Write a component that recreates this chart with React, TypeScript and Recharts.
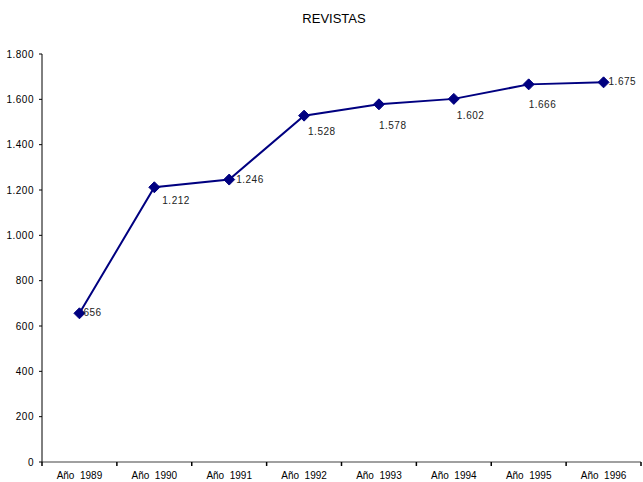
import { LineChart, Line, XAxis, YAxis, LabelList } from 'recharts';

const years = ['1989', '1990', '1991', '1992', '1993', '1994', '1995', '1996'];
const revistas = [656, 1212, 1246, 1528, 1578, 1602, 1666, 1675];
const yTicks = [0, 200, 400, 600, 800, 1000, 1200, 1400, 1600, 1800];

// label nudges (dx, dy) relative to the point, as in the original
const labelNudge: [number, number][] = [
  [4, 3], [8, 17], [7, 3], [4, 19], [0, 25], [3, 20], [0, 24], [5, 3],
];

const W = 643;
const H = 482;
const LEFT = 42;
const RIGHT = 2;
const slot = (W - LEFT - RIGHT) / years.length;

const data = years.map((y, i) => ({ x: i + 0.5, name: `Año ${y}`, value: revistas[i] }));

const fmt = (v: number) => v.toLocaleString('de-DE');

const Diamond = (props: any) => {
  const { cx, cy, index } = props;
  const r = 5.5;
  return (
    <path
      key={`d-${index}`}
      d={`M${cx},${cy - r} L${cx + r},${cy} L${cx},${cy + r} L${cx - r},${cy} Z`}
      fill="#000080"
      stroke="#000080"
    />
  );
};

const XTick = (props: any) => {
  const { x, y, payload } = props;
  const i = payload.value;
  if (i >= years.length) return <g />;
  return (
    <text x={x + slot / 2} y={y + 11} textAnchor="middle" fontSize={10} fill="#000">
      {`Año\u00A0\u00A0${years[i]}`}
    </text>
  );
};

const YTick = (props: any) => {
  const { x, y, payload } = props;
  return (
    <text x={x - 3} y={y + 3.5} textAnchor="end" fontSize={10} fill="#000" letterSpacing={0.5}>
      {fmt(payload.value)}
    </text>
  );
};

const PointLabel = (props: any) => {
  const { x, y, index, value } = props;
  const [dx, dy] = labelNudge[index];
  return (
    <text x={x + dx} y={y + dy} fontSize={10} fill="#222" letterSpacing={0.5}>
      {fmt(value)}
    </text>
  );
};

export default function App() {
  return (
    <div style={{ position: 'absolute', left: 0, top: 0, width: W, height: H, background: '#fff', fontFamily: 'Liberation Sans, Arial, sans-serif' }}>
      <div style={{ position: 'absolute', top: 11, left: 0, width: 668, textAlign: 'center', fontSize: 13 }}>REVISTAS</div>
      <LineChart width={W} height={H} data={data} margin={{ top: 54, right: RIGHT, bottom: 0, left: 0 }}>
        <XAxis
          dataKey="x"
          type="number"
          domain={[0, 8]}
          ticks={[0, 1, 2, 3, 4, 5, 6, 7, 8]}
          height={20}
          tick={<XTick />}
          tickSize={4}
          stroke="#808080"
          strokeWidth={1.5}
          tickLine={{ stroke: '#000' }}
          interval={0}
        />
        <YAxis
          domain={[0, 1800]}
          ticks={yTicks}
          width={LEFT}
          tickSize={3}
          stroke="#000"
          tick={<YTick />}
          interval={0}
        />
        <Line
          dataKey="value"
          stroke="#000080"
          strokeWidth={2}
          dot={Diamond}
          activeDot={false}
          isAnimationActive={false}
        >
          <LabelList dataKey="value" content={PointLabel} />
        </Line>
      </LineChart>
    </div>
  );
}
